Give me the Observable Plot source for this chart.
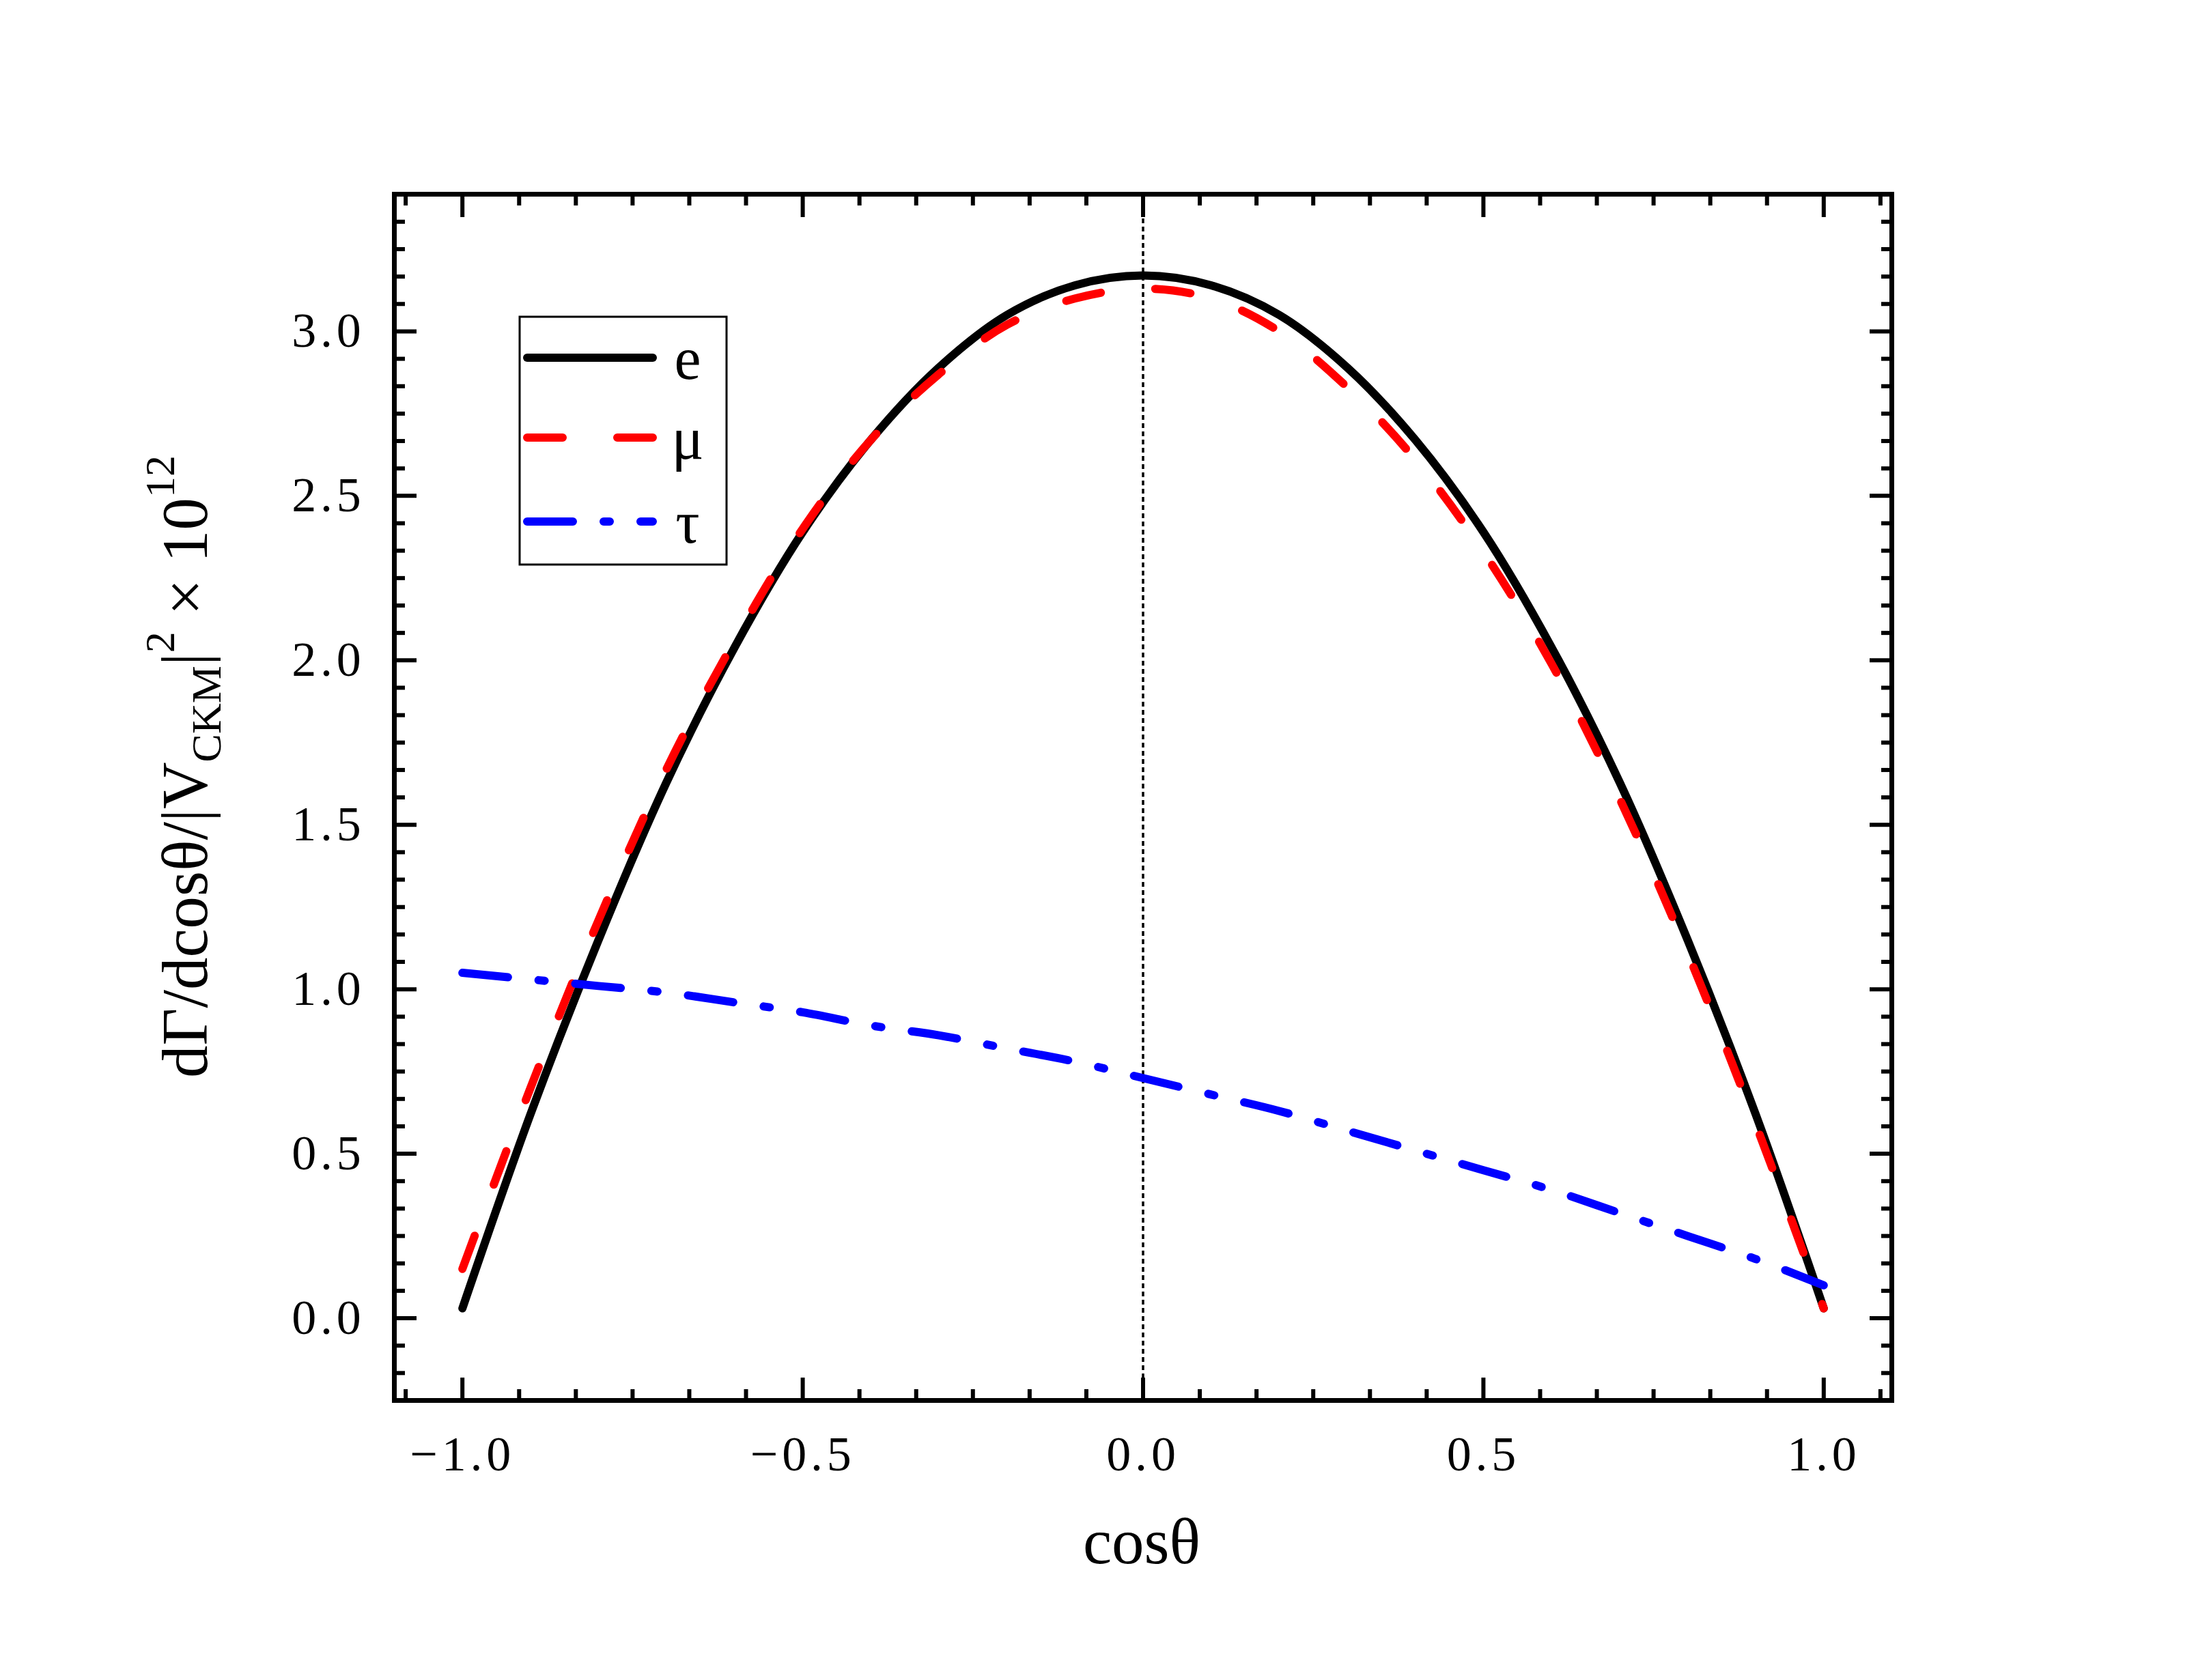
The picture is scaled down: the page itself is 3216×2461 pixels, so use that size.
<!DOCTYPE html>
<html>
<head>
<meta charset="utf-8">
<script src="https://cdn.jsdelivr.net/npm/d3@7"></script>
<script src="https://cdn.jsdelivr.net/npm/@observablehq/plot@0.6"></script>
<style>
html, body { margin: 0; padding: 0; background: #fff; overflow: hidden; }
#chart svg { display: block; }
</style>
</head>
<body>
<div id="chart"></div>
<script>
// ---- data ----
const cosTheta  = [-1.0, -0.9, -0.8, -0.7, -0.6, -0.5, -0.4, -0.3, -0.2, -0.1, 0.0, 0.1, 0.2, 0.3, 0.4, 0.5, 0.6, 0.7, 0.8, 0.9, 1.0];
const eValues   = [0.03, 0.62, 1.15, 1.63, 2.04, 2.39, 2.67, 2.89, 3.05, 3.14, 3.17, 3.14, 3.05, 2.89, 2.67, 2.39, 2.04, 1.63, 1.15, 0.62, 0.03];
const muValues  = [0.15, 0.70, 1.21, 1.67, 2.06, 2.40, 2.67, 2.87, 3.02, 3.10, 3.13, 3.10, 3.00, 2.83, 2.61, 2.33, 1.99, 1.58, 1.11, 0.59, 0.03];
const tauValues = [1.05, 1.03, 1.01, 0.99, 0.96, 0.93, 0.89, 0.86, 0.82, 0.78, 0.73, 0.68, 0.63, 0.57, 0.51, 0.45, 0.39, 0.32, 0.25, 0.18, 0.10];
const seriesNames = ["e", "μ", "τ"];
const xTicks = [-1.0, -0.5, 0.0, 0.5, 1.0];
const yTicks = [0.0, 0.5, 1.0, 1.5, 2.0, 2.5, 3.0];
const xDomain = [-1.1, 1.1];
const yDomain = [-0.25, 3.417];
const refLine = [0];
const xTitle = "cosθ";

// ---- styles ----
const FONT = "'Liberation Serif', 'Times New Roman', serif";
const styles = {
  "e": {stroke: "black", dash: null},
  "μ": {stroke: "red",   dash: "52,80"},
  "τ": {stroke: "blue",  dash: "67,45,9,45"}
};
const LW = 12;

const table = (vals) => cosTheta.map((x, i) => ({x, y: vals[i]}));
const eData = table(eValues), muData = table(muValues), tauData = table(tauValues);

// minor ticks every 1/12 (Origin style: 5 minors between majors)
const xMinor = d3.range(-13, 14).filter(i => i % 6 !== 0).map(i => i / 12).filter(v => v > xDomain[0] && v < xDomain[1]);
const yMinor = d3.range(-2, 41).filter(i => i % 6 !== 0).map(i => i / 12).filter(v => v > yDomain[0] + 1e-6 && v < yDomain[1] - 0.01);

const fmt = d3.format(".1f");

const W = 3216, H = 2461;
const chart = Plot.plot({
  width: W, height: H,
  marginLeft: 577, marginRight: 446, marginTop: 284, marginBottom: 410,
  x: {domain: xDomain},
  y: {domain: yDomain},
  style: {fontFamily: FONT, background: "white", color: "black", overflow: "visible"},
  marks: [
    Plot.ruleX(refLine, {stroke: "black", strokeWidth: 3.5, strokeDasharray: "7,5"}),
    Plot.line(eData,  {x: "x", y: "y", stroke: styles["e"].stroke, strokeWidth: LW, curve: "catmull-rom", strokeLinecap: "round", strokeLinejoin: "round"}),
    Plot.line(muData, {x: "x", y: "y", stroke: styles["μ"].stroke, strokeWidth: LW, curve: "catmull-rom", strokeLinecap: "round", strokeDasharray: styles["μ"].dash}),
    Plot.line(tauData,{x: "x", y: "y", stroke: styles["τ"].stroke, strokeWidth: LW, curve: "catmull-rom", strokeLinecap: "round", strokeDasharray: styles["τ"].dash}),
    // inward ticks on all four sides
    Plot.axisX(xTicks, {anchor: "bottom", tickSize: -33, strokeWidth: 6, fill: "none", label: null}),
    Plot.axisX(xTicks, {anchor: "top",    tickSize: -33, strokeWidth: 6, fill: "none", label: null}),
    Plot.axisX(xMinor, {anchor: "bottom", tickSize: -16, strokeWidth: 6, fill: "none", label: null}),
    Plot.axisX(xMinor, {anchor: "top",    tickSize: -16, strokeWidth: 6, fill: "none", label: null}),
    Plot.axisY(yTicks, {anchor: "left",   tickSize: -33, strokeWidth: 6, fill: "none", label: null}),
    Plot.axisY(yTicks, {anchor: "right",  tickSize: -33, strokeWidth: 6, fill: "none", label: null}),
    Plot.axisY(yMinor, {anchor: "left",   tickSize: -16, strokeWidth: 6, fill: "none", label: null}),
    Plot.axisY(yMinor, {anchor: "right",  tickSize: -16, strokeWidth: 6, fill: "none", label: null}),
    // tick labels
    Plot.axisX(xTicks, {anchor: "bottom", tickSize: 0, tickPadding: 51, fontSize: 72, tickFormat: fmt, label: null, fill: "black"}),
    Plot.axisY(yTicks, {anchor: "left",   tickSize: 0, tickPadding: 43, fontSize: 72, tickFormat: fmt, label: null, fill: "black"}),
    Plot.frame({stroke: "black", strokeWidth: 7})
  ]
});
document.getElementById("chart").appendChild(chart);

const svg = d3.select(chart);
svg.selectAll("text").style("letter-spacing", "0.08em");

// x axis title
svg.append("text")
  .attr("x", 1672).attr("y", 2290)
  .attr("text-anchor", "middle")
  .attr("font-family", FONT).attr("font-size", 95).attr("fill", "black")
  .text(xTitle);

// y axis title with sub/superscripts
const yt = svg.append("text")
  .attr("transform", "translate(303,1123) rotate(-90)")
  .attr("text-anchor", "middle")
  .attr("font-family", FONT).attr("font-size", 95).attr("fill", "black");
yt.append("tspan").text("dΓ/dcosθ/|V");
yt.append("tspan").attr("font-size", 62).attr("dy", 20).text("CKM");
yt.append("tspan").attr("dy", -20).text("|");
yt.append("tspan").attr("font-size", 62).attr("dy", -48).text("2");
yt.append("tspan").attr("dy", 48).text(" × 10");
yt.append("tspan").attr("font-size", 62).attr("dy", -48).text("12");

// legend
const lg = svg.append("g");
lg.append("rect").attr("x", 761).attr("y", 464).attr("width", 303).attr("height", 363)
  .attr("fill", "white").attr("stroke", "black").attr("stroke-width", 3);
const rowY = [524, 641, 764];
seriesNames.forEach((name, i) => {
  const s = styles[name];
  lg.append("line").attr("x1", 772).attr("x2", 956).attr("y1", rowY[i]).attr("y2", rowY[i])
    .attr("stroke", s.stroke).attr("stroke-width", LW).attr("stroke-linecap", "round")
    .attr("stroke-dasharray", s.dash);
  lg.append("text").attr("x", 1007).attr("y", rowY[i] + 31)
    .attr("font-family", FONT).attr("font-size", 88).attr("fill", "black")
    .text(name);
});
</script>
</body>
</html>
